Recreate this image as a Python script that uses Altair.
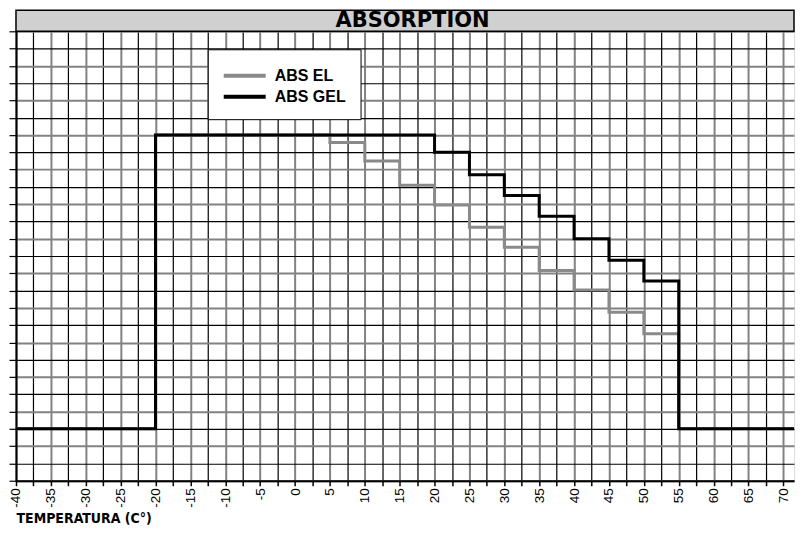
import altair as alt
import pandas as pd

# ---- data (y in grid-row units) ----
el_temp = [-40, -20, 5, 10, 15, 20, 25, 30, 35, 40, 45, 50, 55, 72.5]
el_abs = [3, 20, 19.57, 18.5, 17.1, 15.95, 14.66, 13.5, 12.16, 11.04, 9.74, 8.5, 3, 3]
gel_temp = [-40, -20, 20, 25, 30, 35, 40, 45, 50, 55, 72.5]
gel_abs = [3, 20, 19, 17.7, 16.5, 15.3, 14.0, 12.75, 11.55, 3, 3]
series_names = ["ABS EL", "ABS GEL"]
series_colors = ["#8a8a8a", "#000000"]
x_ticks = [-40 + 2.5 * i for i in range(45)]
y_ticks = list(range(0, 27))

df = pd.concat([
    pd.DataFrame({"temp": el_temp, "abs": el_abs, "serie": series_names[0], "ord": range(len(el_temp))}),
    pd.DataFrame({"temp": gel_temp, "abs": gel_abs, "serie": series_names[1], "ord": range(len(gel_temp))}),
])

W, H = 779, 450
X_MAX = -40 + W / 6.985

lines = alt.Chart(df).mark_line(interpolate="step-after", strokeWidth=3, clip=True).encode(
    x=alt.X("temp:Q",
            scale=alt.Scale(domain=[-40, X_MAX], nice=False, zero=False),
            axis=alt.Axis(values=x_ticks,
                          labelExpr="datum.value % 5 === 0 ? '' + datum.value : ''",
                          labelAngle=270, labelAlign="right", labelBaseline="middle",
                          labelFontSize=13.5, labelFont="Liberation Sans", labelColor="black",
                          labelPadding=2, labelFlush=False, labelOverlap=False,
                          tickSize=5, tickColor="black", tickWidth=1.5,
                          domainColor="black", domainWidth=2,
                          grid=True,
                          gridColor={"condition": {"test": "datum.value % 5 === 0", "value": "#828282"}, "value": "#000000"},
                          gridWidth={"condition": {"test": "datum.value % 5 === 0", "value": 2}, "value": 1.2},
                          gridOpacity=1,
                          title="TEMPERATURA (C°)", titleAnchor="start", titleAlign="left",
                          titleFont="Liberation Sans Narrow, DejaVu Sans Condensed, Liberation Sans",
                          titleFontSize=14, titleFontWeight="bold", titleColor="black",
                          titlePadding=4)),
    y=alt.Y("abs:Q",
            scale=alt.Scale(domain=[0, 26], nice=False, zero=False),
            axis=alt.Axis(values=y_ticks, labels=False, title=None,
                          tickSize=7, tickColor="black", tickWidth=1.2,
                          domainColor="black", domainWidth=2,
                          grid=True,
                          gridColor={"condition": {"test": "datum.value % 2 === 0", "value": "#828282"}, "value": "#000000"},
                          gridWidth={"condition": {"test": "datum.value % 2 === 0", "value": 2}, "value": 1.2},
                          gridOpacity=1)),
    color=alt.Color("serie:N",
                    scale=alt.Scale(domain=series_names, range=series_colors),
                    legend=alt.Legend(title=None, orient="none", legendX=192, legendY=18,
                                      fillColor="white", strokeColor="black", padding=14,
                                      symbolType="M-1,0H3", symbolSize=441, symbolStrokeWidth=4,
                                      labelFont="Liberation Sans", labelFontSize=16,
                                      labelFontWeight="bold", labelColor="black",
                                      labelOffset=28, rowPadding=0)),
    order="ord:Q",
)

band_df = pd.DataFrame({"t": ["ABSORPTION"]})
band = alt.Chart(band_df).mark_rect(fill="#d0d0d0", stroke="black", strokeWidth=1.5).encode(
    x=alt.value(0), x2=alt.value(W), y=alt.value(-21), y2=alt.value(0)
)
title = alt.Chart(band_df).mark_text(font="DejaVu Sans", fontSize=21, fontWeight="bold",
                                     color="black", baseline="middle", align="center").encode(
    x=alt.value(397), y=alt.value(-10), text="t:N"
)

chart = alt.layer(lines, band, title).properties(
    width=W, height=H, padding={"left": 0, "top": 1, "right": 0, "bottom": 0}
).configure_view(stroke=None).configure(background="white")

chart.save("out.html", embed_options={"renderer": "svg", "actions": False})
